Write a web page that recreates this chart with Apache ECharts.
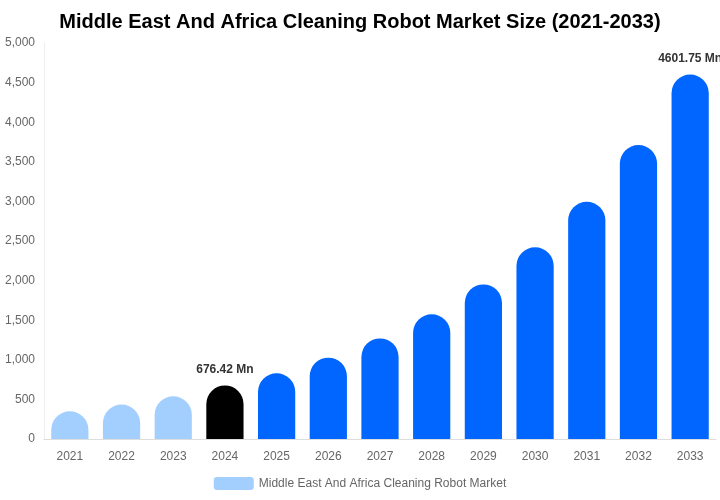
<!DOCTYPE html>
<html lang="en">
<head>
<meta charset="UTF-8">
<title>Cleaning robot market</title>
<script src="https://cdn.jsdelivr.net/npm/echarts@6/dist/echarts.min.js"></script>
<style>
    html, body { margin: 0; padding: 0; background: #fff; }
    #chart { width: 720px; height: 500px; }
</style>
</head>
<body>
<div id="chart"></div>
<script type="text/javascript">
    let years = ['2021', '2022', '2023', '2024', '2025', '2026', '2027', '2028', '2029', '2030', '2031', '2032', '2033'];
    let marketSize = [350, 436, 540, 676.42, 830, 1027, 1270, 1575, 1952, 2420, 2996, 3712, 4601.75];
    // 哪几年显示数值标签
    let labelledYears = ['2024', '2033'];

    let chart = echarts.init(document.getElementById('chart'));

    function barColor(i) {
        if (i < 3) return '#a3cfff';
        if (i === 3) return '#000000';
        return '#0066ff';
    }

    let barData = [];
    for (let i = 0; i < years.length; i++) {
        barData.push({
            value: marketSize[i],
            itemStyle: {color: barColor(i)},
            label: {show: labelledYears.indexOf(years[i]) >= 0}
        });
    }

    let option = {
        backgroundColor: '#fff',
        title: {
            text: 'Middle East And Africa Cleaning Robot Market Size (2021-2033)',
            left: 'center',
            top: 7,
            textStyle: {
                fontFamily: 'Liberation Sans',
                fontSize: 20,
                fontWeight: 'bold',
                color: '#000'
            }
        },
        legend: {
            bottom: 5,
            left: 'center',
            itemWidth: 40,
            itemHeight: 13,
            itemGap: 6,
            data: [{name: 'Middle East And Africa Cleaning Robot Market', itemStyle: {color: '#a3cfff'}}],
            textStyle: {fontFamily: 'Liberation Sans', fontSize: 12, color: '#666'}
        },
        grid: {
            left: 44,
            right: 4,
            top: 43,
            bottom: 61,
            containLabel: false
        },
        xAxis: {
            type: 'category',
            data: years,
            axisLine: {lineStyle: {color: '#ddd'}},
            axisTick: {show: false},
            axisLabel: {
                fontFamily: 'Liberation Sans',
                fontSize: 12,
                color: '#666',
                margin: 12
            }
        },
        yAxis: {
            type: 'value',
            min: 0,
            max: 5000,
            interval: 500,
            axisLine: {show: true, lineStyle: {color: '#eee'}},
            axisTick: {show: false},
            splitLine: {show: false},
            axisLabel: {
                fontFamily: 'Liberation Sans',
                fontSize: 12,
                color: '#666',
                margin: 9,
                formatter: function (v) {
                    return v.toLocaleString('en-US');
                }
            }
        },
        series: [
            {
                name: 'Middle East And Africa Cleaning Robot Market',
                type: 'bar',
                barWidth: '72%',
                data: barData,
                itemStyle: {borderRadius: [19, 19, 0, 0]},
                label: {
                    position: 'top',
                    distance: 10,
                    fontFamily: 'Liberation Sans',
                    fontSize: 12,
                    fontWeight: 'bold',
                    color: '#333',
                    formatter: function (p) {
                        return p.value + ' Mn';
                    }
                }
            }
        ]
    };
    chart.setOption(option);
</script>
</body>
</html>
